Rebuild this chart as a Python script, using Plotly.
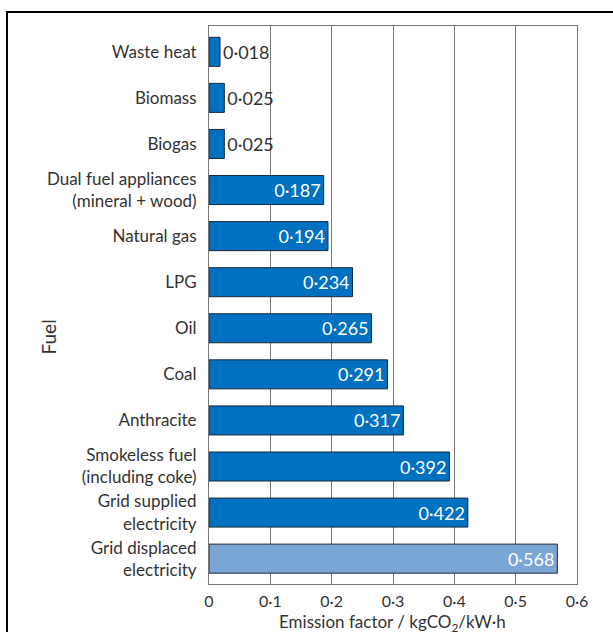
import plotly.graph_objects as go

fuels = [
    "Waste heat", "Biomass", "Biogas",
    "Dual fuel appliances<br>(mineral + wood)", "Natural gas", "LPG", "Oil",
    "Coal", "Anthracite", "Smokeless fuel<br>(including coke)",
    "Grid supplied<br>electricity", "Grid displaced<br>electricity",
]
factors = [0.018, 0.025, 0.025, 0.187, 0.194, 0.234, 0.265,
           0.291, 0.317, 0.392, 0.422, 0.568]
tick_vals = [0, 0.1, 0.2, 0.3, 0.4, 0.5, 0.6]
tick_text = ["0", "0·1", "0·2", "0·3", "0·4", "0·5", "0·6"]

DARK = "#0070c0"
LIGHT = "#7aa6d6"
colors = [LIGHT if f.startswith("Grid displaced") else DARK for f in fuels]
labels = [f"{v:.3f}".replace(".", "·") for v in factors]
positions = ["outside" if v < 0.05 else "inside" for v in factors]

FONT = "Lato, Open Sans, sans-serif"

# plot area in pixels: x 209..577, y 26..584
L, R, T, B = 209, 613 - 577, 26, 632 - 584
PW, PH = 613 - L - R, 632 - T - B

fig = go.Figure(go.Bar(
    x=factors, y=fuels, orientation="h",
    marker=dict(color=colors, line=dict(color="#1a2a3a", width=1)),
    width=0.63,
    text=labels, textposition=positions, insidetextanchor="end",
    insidetextfont=dict(color="white", size=18, family=FONT),
    outsidetextfont=dict(color="#333333", size=18, family=FONT),
    cliponaxis=False,
))

fig.update_layout(
    width=613, height=632,
    margin=dict(l=L, r=R, t=T, b=B),
    plot_bgcolor="white", paper_bgcolor="white",
    showlegend=False,
    font=dict(family=FONT, color="#333333", size=17),
    xaxis=dict(
        range=[0, 0.6], tickvals=tick_vals, ticktext=tick_text,
        showgrid=True, gridcolor="#777777", gridwidth=1,
        showline=True, linecolor="#777777", linewidth=1, mirror=True,
        zeroline=False, ticks="", tickfont=dict(size=16),
        ticklabelstandoff=3, automargin=False,
    ),
    yaxis=dict(
        range=[11.55, -0.56], showgrid=False,
        showline=True, linecolor="#777777", linewidth=1, mirror=True,
        ticks="", ticklabelstandoff=8, tickfont=dict(size=17),
        automargin=False,
    ),
    annotations=[
        dict(
            text="Fuel", textangle=-90, showarrow=False,
            xref="paper", yref="paper", x=(47.5 - L) / PW, y=(584 - 337) / PH,
            xanchor="center", yanchor="middle", font=dict(size=19),
        ),
        dict(
            text="Emission factor / kgCO<sub>2</sub>/kW·h", showarrow=False,
            xref="paper", yref="paper", x=(392.5 - L) / PW, y=(584 - 623) / PH,
            xanchor="center", yanchor="middle", font=dict(size=17),
        ),
    ],
    shapes=[dict(
        type="rect", xref="paper", yref="paper",
        x0=(7 - L) / PW, x1=1.2, y0=-0.2, y1=1 + (T - 12) / PH,
        line=dict(color="black", width=2), fillcolor="rgba(0,0,0,0)",
        layer="below",
    )],
)

fig.write_html("out.html")
